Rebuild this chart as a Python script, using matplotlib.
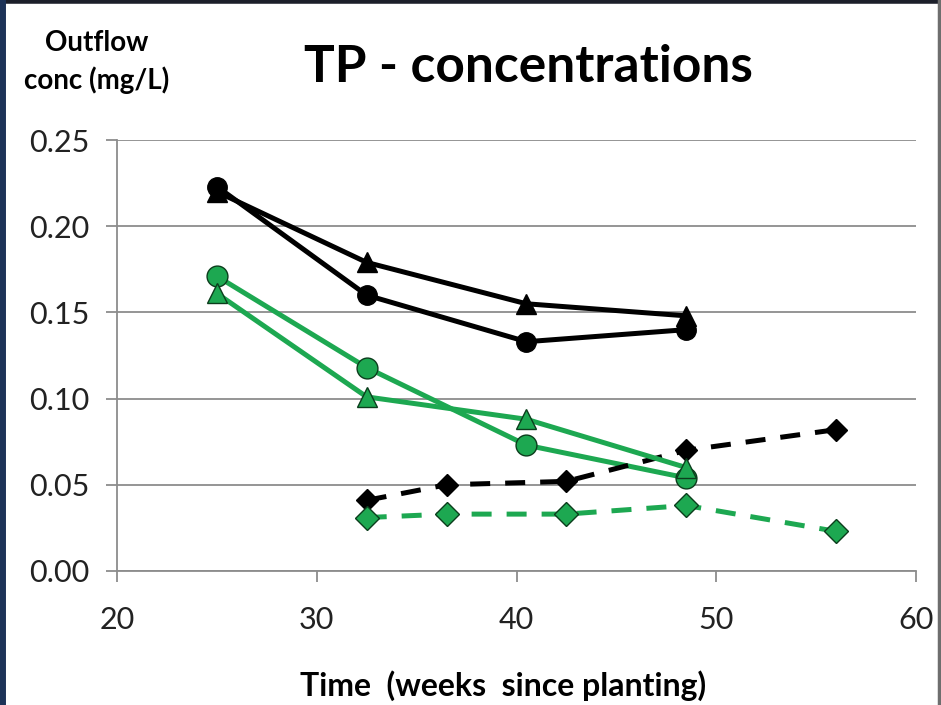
import matplotlib
matplotlib.use("Agg")
import matplotlib.pyplot as plt
from matplotlib.lines import Line2D

plt.rcParams['font.family'] = ['Lato', 'DejaVu Sans']

# Data
x_main = [25, 32.5, 40.5, 48.5]
black_circle = [0.223, 0.160, 0.133, 0.140]
black_triangle = [0.220, 0.179, 0.155, 0.148]
green_circle = [0.171, 0.118, 0.073, 0.054]
green_triangle = [0.161, 0.101, 0.088, 0.060]

x_dia = [32.5, 36.5, 42.5, 48.5, 56]
black_diamond = [0.041, 0.050, 0.052, 0.070, 0.082]
green_diamond = [0.031, 0.033, 0.033, 0.038, 0.023]

xticks = [20, 30, 40, 50, 60]
yticks = [0.00, 0.05, 0.10, 0.15, 0.20, 0.25]

GREEN = '#1DA851'

fig = plt.figure(figsize=(9.41, 7.05), dpi=100)
ax = fig.add_axes([117/941, 1 - 571/705, (916-117)/941, (571-140)/705])

ax.plot(x_main, black_triangle, '-', color='black', lw=3.6, marker='^', ms=14,
        mfc='black', mec='black', zorder=4)
ax.plot(x_main, black_circle, '-', color='black', lw=3.6, marker='o', ms=14,
        mfc='black', mec='black', zorder=4)
ax.plot(x_main, green_circle, '-', color=GREEN, lw=3.6, marker='o', ms=15,
        mfc=GREEN, mec='#0b3d1c', mew=1.0, zorder=4)
ax.plot(x_main, green_triangle, '-', color=GREEN, lw=3.6, marker='^', ms=15,
        mfc=GREEN, mec='#0b3d1c', mew=1.0, zorder=5)
ax.plot(x_dia, black_diamond, '--', color='black', lw=3.6, marker='D', ms=11,
        mfc='black', mec='black', dashes=(4, 3), zorder=4)
ax.plot(x_dia, green_diamond, '--', color=GREEN, lw=3.6, marker='D', ms=12,
        mfc=GREEN, mec='#0b3d1c', mew=1.0, dashes=(4, 3), zorder=4)

ax.set_xlim(20, 60)
ax.set_ylim(0, 0.25)
ax.set_xticks(xticks)
ax.set_yticks(yticks)
ax.set_xticklabels([str(t) for t in xticks])
ax.set_yticklabels([f"{t:.2f}" for t in yticks])
ax.yaxis.grid(True, color='#8c8c8c', lw=1.3)
ax.set_axisbelow(True)
for s in ['top', 'right']:
    ax.spines[s].set_visible(False)
for s in ['left', 'bottom']:
    ax.spines[s].set_color('#8c8c8c')
    ax.spines[s].set_linewidth(1.3)
ax.tick_params(axis='x', direction='out', length=8, width=1.3, color='#8c8c8c',
               labelsize=22, pad=17, labelcolor='#222222')
ax.tick_params(axis='y', direction='out', length=8, width=1.3, color='#8c8c8c',
               labelsize=22, pad=12, labelcolor='#222222')

fig.text(528/941, 1 - 68/705, 'TP - concentrations', ha='center', va='center',
         fontsize=37, fontweight='bold')
fig.text(97/941, 1 - 62/705, 'Outflow\nconc (mg/L)', ha='center', va='center',
         fontsize=20, fontweight='bold', linespacing=1.45)
fig.text(503/941, 1 - 686/705, 'Time  (weeks  since planting)', ha='center',
         va='center', fontsize=23, fontweight='bold')

# border
fig.add_artist(Line2D([0, 1], [0.998, 0.998], transform=fig.transFigure,
                      color='#1c1f2a', lw=4))
fig.add_artist(Line2D([0.002, 0.002], [0, 1], transform=fig.transFigure,
                      color='#1d3358', lw=5))
fig.add_artist(Line2D([0.998, 0.998], [0, 1], transform=fig.transFigure,
                      color='#6e6e6e', lw=2.5))

fig.savefig('out.png', dpi=100)
